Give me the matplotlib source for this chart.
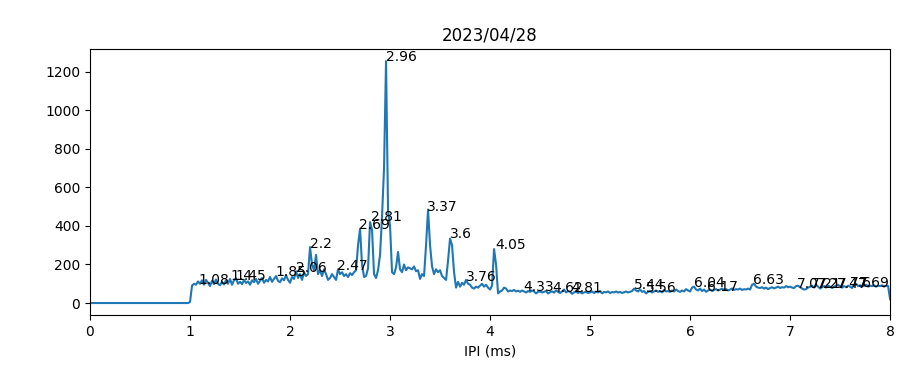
import numpy as np
import matplotlib
matplotlib.use("Agg")
import matplotlib.pyplot as plt

# IPI histogram, 0.02 ms bins from 0 to 8 ms
ipi = np.round(np.arange(0, 8.001, 0.02), 2)

counts = [0] * 50 + [
    # 1.00 - 1.48
    5, 90, 100, 95, 112, 100, 118, 95, 120, 105, 88, 115, 98, 122, 100, 92, 110, 96, 118, 100, 125, 95, 118, 128, 100,
    # 1.50 - 1.98
    110, 98, 120, 104, 112, 95, 118, 108, 125, 100, 115, 130, 105, 120, 112, 135, 110, 125, 140, 115, 108, 128, 118, 145, 120,
    # 2.00 - 2.48
    105, 135, 125, 165, 130, 150, 120, 160, 140, 150, 290, 200, 170, 250, 150, 170, 140, 175, 150, 120, 130, 150, 135, 120, 175,
    # 2.50 - 2.98
    150, 160, 140, 150, 135, 155, 145, 160, 170, 300, 385, 200, 135, 140, 180, 420, 380, 150, 130, 170, 250, 450, 700, 1255, 480,
    # 3.00 - 3.48
    400, 160, 150, 185, 265, 175, 160, 200, 170, 185, 180, 175, 190, 165, 170, 125, 150, 140, 300, 485, 300, 190, 150, 175, 160,
    # 3.50 - 3.98
    170, 140, 130, 120, 220, 335, 300, 160, 80, 110, 85, 105, 95, 120, 100, 95, 80, 75, 85, 80, 90, 100, 85, 95, 80,
    # 4.00 - 4.48
    70, 90, 280, 200, 50, 60, 65, 80, 75, 60, 65, 62, 68, 60, 64, 58, 65, 60, 55, 62, 58, 65, 60, 50, 58,
    # 4.50 - 4.98
    60, 55, 58, 62, 50, 56, 60, 54, 65, 58, 52, 60, 70, 55, 62, 58, 48, 55, 60, 52, 57, 50, 55, 58, 52,
    # 5.00 - 5.48
    55, 60, 52, 58, 55, 62, 50, 58, 55, 60, 52, 57, 55, 60, 54, 58, 52, 56, 60, 55, 58, 62, 75, 65, 60,
    # 5.50 - 5.98
    70, 58, 62, 50, 58, 62, 55, 60, 65, 58, 62, 55, 68, 60, 62, 58, 65, 60, 70, 62, 58, 65, 60, 72, 65,
    # 6.00 - 6.48
    60, 80, 85, 70, 65, 75, 62, 70, 58, 65, 70, 62, 68, 72, 65, 70, 75, 68, 72, 65, 70, 75, 68, 72, 70,
    # 6.50 - 6.98
    75, 68, 72, 70, 75, 70, 95, 100, 85, 80, 78, 82, 75, 80, 72, 78, 82, 76, 80, 85, 78, 82, 80, 88, 82,
    # 7.00 - 7.48
    85, 80, 78, 88, 90, 82, 75, 70, 72, 80, 85, 90, 80, 95, 85, 75, 82, 88, 80, 90, 85, 78, 85, 90, 95,
    # 7.50 - 8.00
    85, 80, 88, 82, 90, 85, 78, 95, 100, 88, 92, 85, 90, 95, 85, 90, 88, 92, 85, 90, 88, 92, 85, 90, 88, 20,
]

# detected peaks (label text, position)
peak_ipi = [1.08, 1.4, 1.45, 1.85, 2.06, 2.2, 2.47, 2.69, 2.81, 2.96, 3.37, 3.6, 3.76, 4.05,
            4.33, 4.62, 4.81, 5.44, 5.56, 6.04, 6.17, 6.63, 7.07, 7.21, 7.27, 7.47, 7.6, 7.69]
peak_counts = [100, 118, 120, 140, 162, 285, 172, 385, 425, 1255, 480, 335, 115, 280,
               62, 58, 58, 72, 55, 85, 62, 100, 78, 78, 78, 80, 82, 85]

fig, ax = plt.subplots(figsize=(9, 3.66), dpi=100)
fig.subplots_adjust(left=0.1, right=0.989, top=0.866, bottom=0.139)

ax.plot(ipi, counts)

for px, py in zip(peak_ipi, peak_counts):
    ax.text(px, py, str(px))

ax.set_xlim(0, 8)
ax.set_xlabel("IPI (ms)")
ax.set_title("2023/04/28")

fig.savefig("out.png")
